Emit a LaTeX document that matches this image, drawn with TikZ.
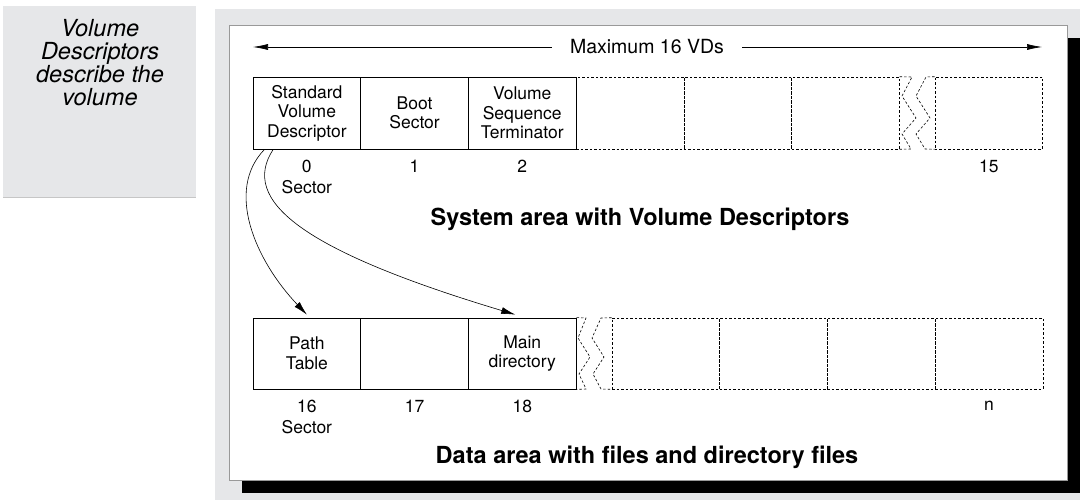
\documentclass[tikz,border=0pt]{standalone}
\usepackage{fontspec}
\setmainfont{TeX Gyre Heros}
\usetikzlibrary{arrows.meta,calc}

\definecolor{panelgray}{HTML}{E6E7E9}
\newcommand{\cellfont}{\fontsize{17.5}{19.5}\selectfont}
\newcommand{\maxfont}{\fontsize{19.5}{22}\selectfont}
\newcommand{\areafont}{\fontsize{23.5}{25}\selectfont\bfseries}
\newcommand{\sidefont}{\fontsize{23.5}{23}\selectfont\itshape}

\begin{document}
\begin{tikzpicture}[x=1pt,y=-1pt,
  cell/.style={draw, line width=0.8pt, minimum width=107.7pt, minimum height=72pt,
    inner sep=0pt, align=center, font=\cellfont},
  gapcell/.style={cell, line width=0.6pt, dash pattern=on 2.5pt off 2pt},
  gapline/.style={line width=0.6pt, dash pattern=on 2.5pt off 2pt},
  lbl/.style={inner sep=0pt, font=\cellfont},
  tip/.style={-{Latex[length=14pt,width=7pt]}, line width=0.6pt}]

\useasboundingbox (0,0) rectangle (1080,500);

% Side note
\fill[panelgray] (3,6) rectangle (196,197);
\draw[gray!45, line width=0.8pt] (3,197) -- (196,197);
\node[align=center, font=\sidefont] (note) at (100,63)
  {Volume\\Descriptors\\describe the\\volume};

% Panel, shadow and frame
\fill[panelgray] (215,9) rectangle (1080,500);
\fill[black] (242,38) rectangle (1080,493);
\draw[gray!80, fill=white, line width=0.8pt] (229,25) rectangle (1067,480);

% Maximum 16 VDs
\coordinate (maxL) at (253,47);
\coordinate (maxR) at (1042,47);
\node[font=\maxfont, inner xsep=18pt, inner ysep=0pt] (maxlbl) at (647,47) {Maximum 16 VDs};
\draw[tip, -{Latex[length=15pt,width=6pt]}] (maxlbl.west) -- (maxL);
\draw[tip, -{Latex[length=15pt,width=6pt]}] (maxlbl.east) -- (maxR);

% System area
\foreach \i/\cx in {3/629.95,4/737.65,5/845.35}
  \node[gapcell] (v\i) at (\cx,113) {};
\node[gapcell] (v15) at (988.8,113) {};
\node[cell] (sd) at (306.85,113) {Standard\\Volume\\Descriptor};
\node[cell] (bs) at (414.55,113) {Boot\\Sector};
\node[cell] (vst) at (522.25,113) {Volume\\Sequence\\Terminator};

% break in the top row
\draw[gapline] (v5.north east) -- (912,77) -- (902,96) -- (916,118) -- (902,134) -- (911,149) -- (v5.south east);
\draw[gapline] (v15.north west) -- (926,77) -- (916,96) -- (930,118) -- (916,134) -- (925,149) -- (v15.south west);

\node[lbl] (s0) at (306.85,166) {0};
\node[lbl] (sec0) at (306.85,187) {Sector};
\node[lbl] (s1) at (414.55,166) {1};
\node[lbl] (s2) at (522.25,166) {2};
\node[lbl] (s15) at (988.8,166) {15};

\node[font=\areafont] (sysarea) at (640,219) {System area with Volume Descriptors};

% Data area
\foreach \i/\cx in {1/665.85,2/773.55,3/881.25,4/988.95}
  \node[gapcell, minimum height=71pt] (dn\i) at (\cx,353.5) {};
\node[cell, minimum height=71pt] (pt) at (306.85,353.5) {Path\\Table};
\node[cell, minimum height=71pt] (d17) at (414.55,353.5) {};
\node[cell, minimum height=71pt] (md) at (522.25,353.5) {Main\\directory};

% break in the bottom row
\draw[gapline] (md.north east) -- (586,318) -- (578,338) -- (590,357) -- (579,374) -- (586,389) -- (md.south east);
\draw[gapline] (dn1.north west) -- (601,318) -- (592,338) -- (604,357) -- (593,374) -- (601,389) -- (dn1.south west);

\node[lbl] (s16) at (306.85,406) {16};
\node[lbl] (sec16) at (306.85,427) {Sector};
\node[lbl] (s17) at (414.55,406) {17};
\node[lbl] (s18) at (522.25,406) {18};
\node[lbl] (sn) at (988.95,406) {n};

\node[font=\areafont] (dataarea) at (647,457) {Data area with files and directory files};

% Pointers from the descriptor
\draw[tip] ($(sd.south west)!0.11!(sd.south east)$) .. controls (225,190) and (255,260) .. ($(pt.north)+(0,-3)$);
\draw[tip] ($(sd.south west)!0.19!(sd.south east)$) .. controls (240,200) and (300,250) .. ($(md.north)+(-7,-3)$);

\end{tikzpicture}
\end{document}
